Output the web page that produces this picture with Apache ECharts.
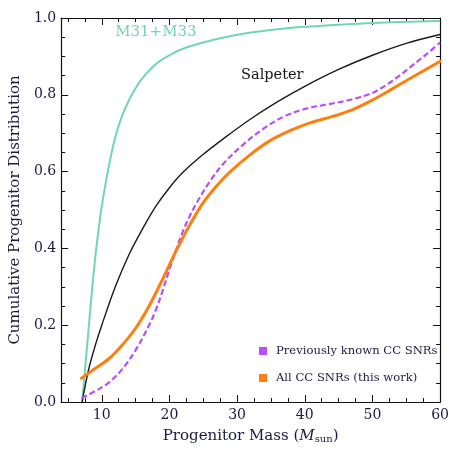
<!DOCTYPE html>
<html>
<head>
<meta charset="utf-8">
<script src="https://cdn.jsdelivr.net/npm/echarts@6/dist/echarts.min.js"></script>
<style>
  html, body { margin: 0; padding: 0; background: #fff; }
  #chart { width: 452px; height: 449px; }
</style>
</head>
<body>
<div id="chart"></div>
<script>
// Cumulative progenitor mass distributions
const m31m33Mass = [7.1, 7.5, 8, 8.5, 9, 9.5, 10, 11, 12, 13, 14, 15, 16, 18, 20, 22, 25, 28, 32, 36, 40, 50, 60];
const m31m33Cdf  = [0, 0.08, 0.18, 0.28, 0.37, 0.445, 0.51, 0.61, 0.69, 0.745, 0.785, 0.817, 0.843, 0.88, 0.903, 0.92, 0.936, 0.949, 0.962, 0.971, 0.977, 0.987, 0.992];

const salpeterMass = [7.1, 8, 9, 10, 12, 14, 16, 18, 20, 22, 25, 28, 32, 36, 40, 45, 50, 55, 60];
const salpeterCdf  = [0, 0.08, 0.145, 0.20, 0.30, 0.383, 0.45, 0.51, 0.558, 0.598, 0.645, 0.686, 0.737, 0.782, 0.822, 0.866, 0.903, 0.934, 0.957];

const prevMass = [7, 9, 11, 13, 15, 17, 18, 19, 20, 21, 22, 23, 24, 26, 28, 31, 34, 37, 40, 43, 46, 48, 50, 52, 54, 56, 58, 60];
const prevCdf  = [0.01, 0.028, 0.05, 0.085, 0.135, 0.20, 0.24, 0.29, 0.345, 0.397, 0.445, 0.484, 0.518, 0.575, 0.621, 0.672, 0.713, 0.744, 0.763, 0.774, 0.784, 0.793, 0.805, 0.825, 0.85, 0.878, 0.906, 0.936];

const allMass = [7, 9, 11, 13, 15, 17, 19, 21, 23, 25, 27, 29, 32, 35, 38, 41, 44, 47, 50, 53, 56, 60];
const allCdf  = [0.062, 0.087, 0.112, 0.148, 0.192, 0.25, 0.32, 0.394, 0.461, 0.519, 0.563, 0.60, 0.645, 0.682, 0.708, 0.728, 0.743, 0.761, 0.786, 0.816, 0.847, 0.887];

// Axis ticks
const xMajorTicks = [10, 20, 30, 40, 50, 60];
const xMinorTicks = [5, 7.5, 12.5, 15, 17.5, 22.5, 25, 27.5, 32.5, 35, 37.5, 42.5, 45, 47.5, 52.5, 55, 57.5];

const seriesNames = ['Previously known CC SNRs', 'All CC SNRs (this work)'];

const zip = (xs, ys) => xs.map((x, i) => [x, ys[i]]);

const ink = '#1b1b40';
const serif = 'DejaVu Serif';

const xBase = (pos, ticks, len, labels, line) => ({
  type: 'value', position: pos, min: 4, max: 60,
  axisLine: { show: line, onZero: false, lineStyle: { color: '#111', width: 1.2 } },
  axisTick: { show: true, inside: true, length: len, customValues: ticks, lineStyle: { color: '#111', width: 1 } },
  axisLabel: labels ? { show: true, customValues: ticks, color: ink, fontFamily: serif, fontSize: 14, margin: 6 } : { show: false },
  splitLine: { show: false }
});

const yBase = (pos, labels) => ({
  type: 'value', position: pos, min: 0, max: 1, interval: 0.2,
  axisLine: { show: true, onZero: false, lineStyle: { color: '#111', width: 1.2 } },
  axisTick: { show: true, inside: true, length: 7, lineStyle: { color: '#111', width: 1 } },
  minorTick: { show: true, splitNumber: 4, length: 4, lineStyle: { color: '#111', width: 1 } },
  axisLabel: labels ? { show: true, color: ink, fontFamily: serif, fontSize: 14, margin: 5, formatter: v => v.toFixed(1) } : { show: false },
  splitLine: { show: false }
});

const xAxes = [
  Object.assign(xBase('bottom', xMajorTicks, 7, true, true), {
    name: '{t|Progenitor Mass (}{i|M}{s|sun}{t|)}',
    nameLocation: 'middle', nameGap: 26,
    nameTextStyle: {
      rich: {
        t: { fontFamily: serif, fontSize: 15, color: ink },
        i: { fontFamily: serif, fontSize: 15, fontStyle: 'italic', color: ink },
        s: { fontFamily: serif, fontSize: 10, color: ink, verticalAlign: 'bottom', padding: [6, 0, 0, 0] }
      }
    }
  }),
  xBase('bottom', xMinorTicks, 4, false, false),
  xBase('top', xMajorTicks, 7, false, true),
  xBase('top', xMinorTicks, 4, false, false)
];

const yAxes = [
  Object.assign(yBase('left', true), {
    name: 'Cumulative Progenitor Distribution',
    nameLocation: 'middle', nameGap: 32,
    nameTextStyle: { fontFamily: serif, fontSize: 15, color: ink }
  }),
  yBase('right', false)
];

const chart = echarts.init(document.getElementById('chart'), null, { renderer: 'canvas' });

chart.setOption({
  animation: false,
  backgroundColor: '#fff',
  grid: { left: 60, right: 7, top: 18, bottom: 46 },
  xAxis: xAxes,
  yAxis: yAxes,
  legend: {
    data: seriesNames,
    orient: 'vertical',
    left: 254, top: 340,
    icon: 'rect', itemWidth: 8, itemHeight: 8, itemGap: 15,
    textStyle: { fontFamily: serif, fontSize: 11.6, color: ink, padding: [0, 0, 0, 4] }
  },
  series: [
    {
      name: 'M31+M33', type: 'line', data: zip(m31m33Mass, m31m33Cdf),
      smooth: 0.35, showSymbol: false,
      lineStyle: { color: '#72d6b0', width: 2 },
      markPoint: {
        symbol: 'circle', symbolSize: 0, silent: true,
        label: { show: true, position: 'inside', formatter: 'M31+M33', fontFamily: serif, fontSize: 15, color: '#72d6b0' },
        data: [{ coord: [18, 0.962] }]
      }
    },
    {
      name: 'Salpeter', type: 'line', data: zip(salpeterMass, salpeterCdf),
      smooth: 0.35, showSymbol: false,
      lineStyle: { color: '#1a1a1a', width: 1.4 },
      markPoint: {
        symbol: 'circle', symbolSize: 0, silent: true,
        label: { show: true, position: 'inside', formatter: 'Salpeter', fontFamily: serif, fontSize: 14.5, color: '#151515' },
        data: [{ coord: [35.2, 0.852] }]
      }
    },
    {
      name: seriesNames[0], type: 'line', data: zip(prevMass, prevCdf),
      smooth: 0.35, showSymbol: false,
      itemStyle: { color: '#b84dfa' },
      lineStyle: { color: '#b84dfa', width: 2.2, type: [6, 3] }
    },
    {
      name: seriesNames[1], type: 'line', data: zip(allMass, allCdf),
      smooth: 0.35, showSymbol: false,
      itemStyle: { color: '#ff7f0e' },
      lineStyle: { color: '#ff7f0e', width: 3, cap: 'round' }
    }
  ]
});
</script>
</body>
</html>
